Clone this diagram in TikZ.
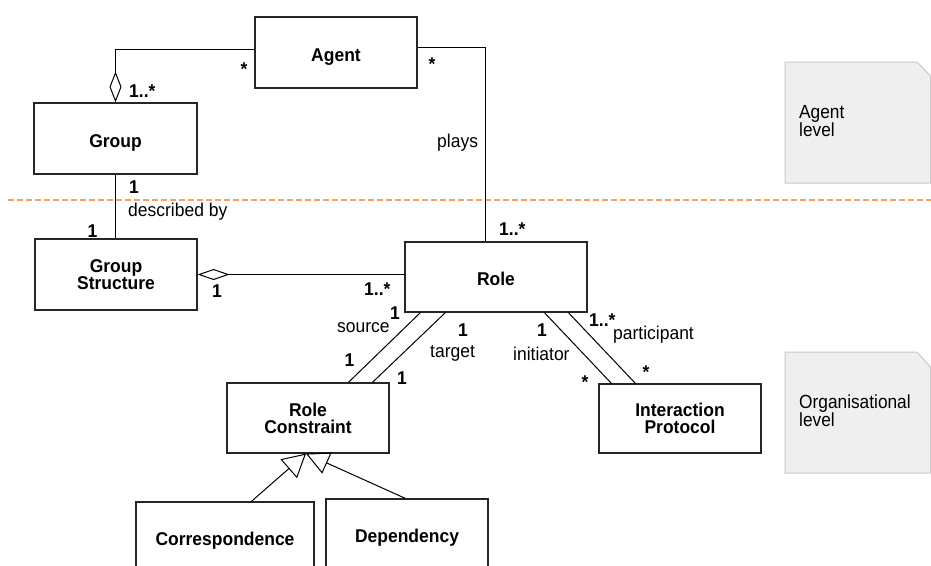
\documentclass[tikz,border=0pt]{standalone}
\usepackage{fontspec}
\setmainfont[FakeStretch=0.945]{Liberation Sans}
\newfontfamily\notefont[FakeStretch=0.91]{Liberation Sans}
\usetikzlibrary{arrows.meta}
\definecolor{dashorange}{RGB}{245,160,100}
\definecolor{notefill}{RGB}{239,239,239}
\definecolor{noteline}{RGB}{200,200,200}
\newcommand{\lblfont}{\fontsize{18.5}{20}\selectfont}
\newcommand{\clsfont}{\bfseries\fontsize{18.5}{17}\selectfont\lineskiplimit=-20pt\relax}
\newcommand{\ntfont}{\notefont\fontsize{19}{18}\selectfont\lineskiplimit=-20pt\relax}
\begin{document}
\begin{tikzpicture}[x=1pt,y=-1pt,
  cls/.style={draw=black!85, line width=1.2pt, fill=white, rectangle, inner sep=0pt,
    font={\clsfont}, align=center,
    text height=17pt, text depth=0pt},
  cls2/.style={cls, text height=30pt, text depth=0pt},
  conn/.style={draw=black, line width=1pt},
  mult/.style={font={\bfseries\lblfont}, inner sep=0pt},
  lab/.style={font={\lblfont}, inner sep=0pt},
  notebox/.style={draw=noteline, fill=notefill, line width=1pt},
  notetext/.style={font={\ntfont}, align=left, inner sep=0pt},
  levelline/.style={draw=dashorange, line width=1.5pt, dash pattern=on 6pt off 3pt}
]
\useasboundingbox (0,0) rectangle (931,565);
\clip (0,0) rectangle (931,565);

% level separator
\coordinate (dl) at (8,200);
\coordinate (dr) at (931,200);
\draw[levelline] (dl) -- (dr);

% notes
\draw[notebox] (785,62) -- (917,62) -- (930.5,76) -- (930.5,183) -- (785,183) -- cycle;
\node[notetext, anchor=west] (nt1) at (799,121) {Agent\\level};
\draw[notebox] (785,352) -- (917,352) -- (930.5,367) -- (930.5,473) -- (785,473) -- cycle;
\node[notetext, anchor=west] (nt2) at (799,411) {Organisational\\level};

% classes
\node[cls, minimum width=162pt, minimum height=71pt] (agent) at (336,52.5) {Agent};
\node[cls, minimum width=163pt, minimum height=71pt] (group) at (115.5,138.5) {Group};
\node[cls2, minimum width=162pt, minimum height=71pt] (gs) at (116,274.5) {Group\\Structure};
\node[cls, minimum width=182pt, minimum height=70pt] (role) at (496,277) {Role};
\node[cls2, minimum width=162pt, minimum height=70pt] (rc) at (308,418) {Role\\Constraint};
\node[cls2, minimum width=162pt, minimum height=69pt] (ip) at (680,418.5) {Interaction\\Protocol};
\node[cls, minimum width=178pt, minimum height=69pt] (corr) at (225,536.5) {Correspondence};
\node[cls, minimum width=162pt, minimum height=69pt] (dep) at (407,533.5) {Dependency};

% connectors
\draw[conn, -{Diamond[open,length=31pt,width=12pt]}] ([yshift=3.5pt]agent.west) -| (group.north);
\draw[conn] ([yshift=5.5pt]agent.east) -| ([xshift=-11pt]role.north);
\draw[conn] (group.south) -- (group.south |- gs.north);
\draw[conn, -{Diamond[open,length=32pt,width=11pt]}] (role.west |- gs.east) -- (gs.east);
\draw[conn] ([xshift=16pt]role.south west) -- ([xshift=122pt]rc.north west);
\draw[conn] ([xshift=41pt]role.south west) -- ([xshift=146pt]rc.north west);
\draw[conn] ([xshift=140pt]role.south west) -- ([xshift=13pt]ip.north west);
\draw[conn] ([xshift=164pt]role.south west) -- ([xshift=37pt]ip.north west);
\draw[conn, -{Triangle[open,length=23pt,width=25pt]}] ([xshift=116pt]corr.north west) -- ([xshift=-2pt]rc.south);
\draw[conn, -{Triangle[open,length=23pt,width=23pt]}] ([xshift=80pt]dep.north west) -- ([xshift=-2pt]rc.south);

% labels
\node[mult, anchor=base] (m1) at (244,75) {*};
\node[mult, anchor=base west] (m2) at (129,97) {1..*};
\node[mult, anchor=base] (m3) at (432,70) {*};
\node[lab, anchor=base west] (l1) at (437,147) {plays};
\node[mult, anchor=base west] (m4) at (129,193) {1};
\node[lab, anchor=base west] (l2) at (128,216) {described by};
\node[mult, anchor=base] (m5) at (92.5,237) {1};
\node[mult, anchor=base west] (m6) at (499,235) {1..*};
\node[mult, anchor=base] (m7) at (217,297) {1};
\node[mult, anchor=base west] (m8) at (364,295) {1..*};
\node[lab, anchor=base west] (l3) at (337,332) {source};
\node[mult, anchor=base] (m9) at (395,319) {1};
\node[mult, anchor=base] (m10) at (349.5,366) {1};
\node[mult, anchor=base] (m11) at (463,336) {1};
\node[lab, anchor=base west] (l4) at (430,357) {target};
\node[mult, anchor=base] (m12) at (402,384) {1};
\node[mult, anchor=base] (m13) at (542,336) {1};
\node[lab, anchor=base west] (l5) at (513,360) {initiator};
\node[mult, anchor=base] (m14) at (585,388) {*};
\node[mult, anchor=base west] (m15) at (589,326) {1..*};
\node[lab, anchor=base west] (l6) at (613,339) {participant};
\node[mult, anchor=base] (m16) at (646,378) {*};
\end{tikzpicture}
\end{document}
